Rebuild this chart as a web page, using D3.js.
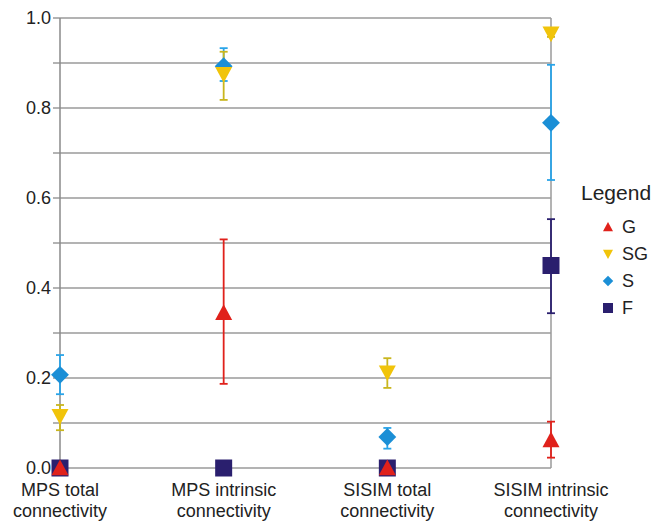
<!DOCTYPE html>
<html>
<head>
<meta charset="utf-8">
<script src="https://cdn.jsdelivr.net/npm/d3@7"></script>
<style>
  body { margin: 0; background: #fff; }
  svg text { font-family: "Liberation Sans", Arial, sans-serif; fill: #222; }
</style>
</head>
<body>
<svg id="chart" width="653" height="522"></svg>
<script>
const categories = ["MPS total|connectivity", "MPS intrinsic|connectivity", "SISIM total|connectivity", "SISIM intrinsic|connectivity"];
const seriesNames = ["G", "SG", "S", "F"];
// value, low, high per category
const gValues = [[0.0, null, null], [0.345, 0.187, 0.508], [0.0, null, null], [0.062, 0.023, 0.103]];
const sgValues = [[0.115, 0.084, 0.14], [0.875, 0.818, 0.925], [0.212, 0.178, 0.244], [0.965, 0.958, 0.972]];
const sValues = [[0.207, 0.164, 0.251], [0.893, 0.86, 0.933], [0.069, 0.043, 0.089], [0.767, 0.64, 0.896]];
const fValues = [[0.0, null, null], [0.0, null, null], [0.0, null, null], [0.45, 0.344, 0.553]];
const yTicks = [0, 0.2, 0.4, 0.6, 0.8, 1.0];
const gridTicks = [0, 0.1, 0.2, 0.3, 0.4, 0.5, 0.6, 0.7, 0.8, 0.9, 1.0];

const series = [
  { name: "F", values: fValues, fill: "#2a1f6e", bar: "#2a1f6e", shape: "square" },
  { name: "S", values: sValues, fill: "#1b8fd6", bar: "#2aa4e8", shape: "diamond" },
  { name: "SG", values: sgValues, fill: "#f1c40a", bar: "#c9b61e", shape: "down" },
  { name: "G", values: gValues, fill: "#e0211b", bar: "#e0211b", shape: "up" }
];

const svg = d3.select("#chart");
const x = d3.scalePoint().domain(categories).range([60, 551]).padding(0);
const y = d3.scaleLinear().domain([0, 1]).range([468, 18]);

// grid
svg.append("g").selectAll("line").data(gridTicks).join("line")
  .attr("x1", 53).attr("x2", 551)
  .attr("y1", d => y(d)).attr("y2", d => y(d))
  .attr("stroke", "#9a9a9a").attr("stroke-width", 1.5);

// frame verticals
svg.append("line").attr("x1", 60).attr("x2", 60).attr("y1", y(1)).attr("y2", y(0))
  .attr("stroke", "#8a8a8a").attr("stroke-width", 1.5);
svg.append("line").attr("x1", 551).attr("x2", 551).attr("y1", y(1)).attr("y2", y(0))
  .attr("stroke", "#9a9a9a").attr("stroke-width", 1.5);

// y axis labels
svg.append("g").selectAll("text").data(yTicks).join("text")
  .attr("x", 51).attr("y", d => y(d)).attr("dy", "0.36em")
  .attr("text-anchor", "end").attr("font-size", 18)
  .text(d => d.toFixed(1));

// category labels
const cat = svg.append("g").selectAll("text").data(categories).join("text")
  .attr("text-anchor", "middle").attr("font-size", 18);
cat.each(function(d) {
  const parts = d.split("|");
  const t = d3.select(this);
  parts.forEach((p, i) => {
    t.append("tspan").attr("x", x(d)).attr("y", 496 + i * 21).text(p);
  });
});

function shapePath(shape, s) {
  if (shape === "square") return `M${-s},${-s}H${s}V${s}H${-s}Z`;
  if (shape === "diamond") return `M0,${-s * 1.05}L${s * 1.05},0L0,${s * 1.05}L${-s * 1.05},0Z`;
  if (shape === "up") return `M0,${-s}L${s},${s * 0.85}L${-s},${s * 0.85}Z`;
  return `M0,${s}L${s},${-s * 0.85}L${-s},${-s * 0.85}Z`;
}

// error bars
series.forEach(se => {
  const g = svg.append("g");
  se.values.forEach((v, i) => {
    if (v[1] == null) return;
    const cx = x(categories[i]);
    g.append("line").attr("x1", cx).attr("x2", cx).attr("y1", y(v[1])).attr("y2", y(v[2]))
      .attr("stroke", se.bar).attr("stroke-width", 1.8);
    [v[1], v[2]].forEach(e => {
      g.append("line").attr("x1", cx - 4).attr("x2", cx + 4).attr("y1", y(e)).attr("y2", y(e))
        .attr("stroke", se.bar).attr("stroke-width", 1.8);
    });
  });
});

// markers
series.forEach(se => {
  svg.append("g").selectAll("path").data(se.values).join("path")
    .attr("transform", (v, i) => `translate(${x(categories[i])},${y(v[0])})`)
    .attr("d", shapePath(se.shape, 8.5))
    .attr("fill", se.fill);
});

// legend
svg.append("text").attr("x", 581).attr("y", 200).attr("font-size", 21).text("Legend");
const legendOrder = ["G", "SG", "S", "F"];
legendOrder.forEach((n, i) => {
  const se = series.find(s => s.name === n);
  const ly = 227 + i * 27;
  svg.append("path").attr("transform", `translate(608,${ly})`)
    .attr("d", shapePath(se.shape, 5)).attr("fill", se.fill);
  svg.append("text").attr("x", 622).attr("y", ly).attr("dy", "0.36em")
    .attr("font-size", 18).text(n);
});
</script>
</body>
</html>
